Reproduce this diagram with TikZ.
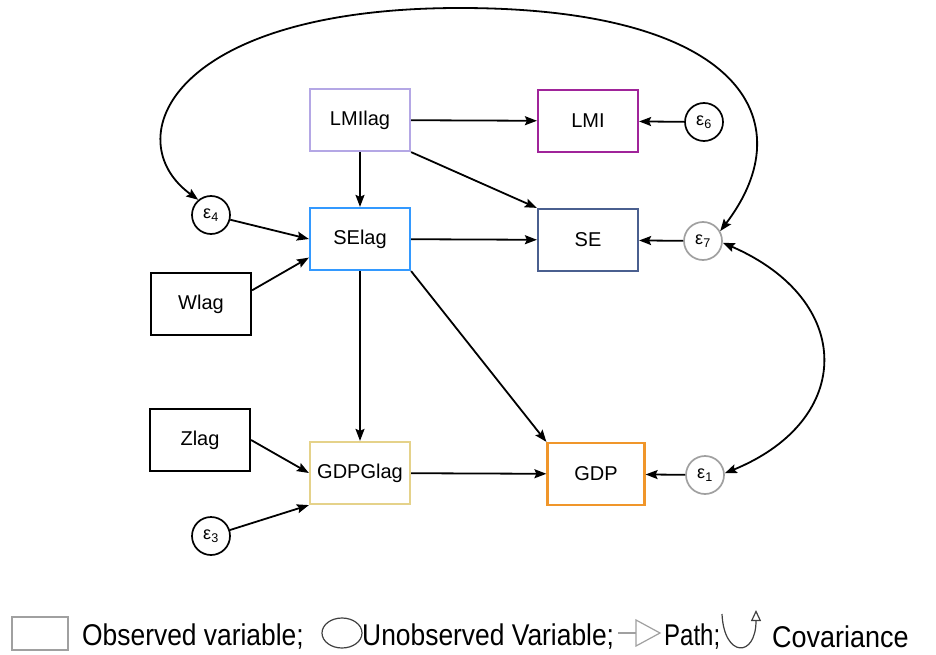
\documentclass[tikz,border=0pt]{standalone}
\usepackage{fontspec}
\setmainfont{Liberation Sans}
\usepackage{graphicx}
\usetikzlibrary{arrows.meta}

\definecolor{lmilagcol}{RGB}{180,167,229}
\definecolor{lmicol}{RGB}{160,36,154}
\definecolor{selagcol}{RGB}{51,153,255}
\definecolor{secol}{RGB}{74,95,143}
\definecolor{gdpglagcol}{RGB}{229,210,138}
\definecolor{gdpcol}{RGB}{240,150,42}
\definecolor{errgray}{RGB}{160,160,160}

\tikzset{
  obs/.style={draw, line width=2.2pt, minimum width=100pt, minimum height=62pt, inner sep=0pt, font=\fontsize{20}{24}\selectfont},
  err/.style={draw, circle, line width=1.7pt, minimum size=38pt, inner sep=0pt, font=\fontsize{18}{20}\selectfont},
  pth/.style={line width=1.8pt, -{Stealth[length=12pt,width=9pt,inset=2pt]}},
  cov/.style={line width=1.8pt, {Stealth[length=12pt,width=9pt,inset=2pt]}-{Stealth[length=12pt,width=9pt,inset=2pt]}},
  legtext/.style={anchor=west, inner sep=0pt, font=\fontsize{30}{34}\selectfont}
}

\begin{document}
\begin{tikzpicture}[x=1pt,y=-1pt]
	\useasboundingbox (0,0) rectangle (936,655);
	
	% Text Node
	\node [obs, draw=lmilagcol] (lmilag) at (360,120) {LMIlag};
	% Text Node
	\node [obs, draw=lmicol] (lmi) at (588,121) {LMI};
	% Text Node
	\node [obs, draw=selagcol] (selag) at (360,239) {SElag};
	% Text Node
	\node [obs, draw=secol] (se) at (588,240) {SE};
	% Text Node
	\node [obs] (wlag) at (201,304) {Wlag};
	% Text Node
	\node [obs] (zlag) at (200,440) {Zlag};
	% Text Node
	\node [obs, draw=gdpglagcol] (gdpglag) at (360,473) {GDPGlag};
	% Text Node
	\node [obs, draw=gdpcol, minimum width=97pt] (gdp) at (596,474) {GDP};
	
	%Shape: Circle
	\node [err] (e4) at (211,215) {ε\textsubscript{4}};
	\node [err] (e6) at (704,122) {ε\textsubscript{6}};
	\node [err, draw=errgray] (e7) at (703,241) {ε\textsubscript{7}};
	\node [err, draw=errgray] (e1) at (705,475) {ε\textsubscript{1}};
	\node [err] (e3) at (211,536) {ε\textsubscript{3}};
	
	%Straight Lines
	\draw [pth] (lmilag) -- (lmi);
	\draw [pth] (lmilag) -- (selag);
	\draw [pth] (lmilag.south east) -- (se.north west);
	\draw [pth] (e6) -- (lmi);
	\draw [pth] (e4) -- (selag.west);
	\draw [pth] (wlag.15) -- (selag.200);
	\draw [pth] (selag) -- (se);
	\draw [pth] (e7) -- (se);
	\draw [pth] (selag) -- (gdpglag);
	\draw [pth] (selag.south east) -- (gdp.north west);
	\draw [pth] (zlag.east) -- (gdpglag.west);
	\draw [pth] (e3) -- (gdpglag.south west);
	\draw [pth] (gdpglag) -- (gdp);
	\draw [pth] (e1) -- (gdp);
	
	%Curve Lines
	\draw [cov] (e4.130) .. controls (116,140) and (170,8) .. (460,8) .. controls (740,8) and (805,120) .. (e7.30);
	\draw [cov] (e7.-5) .. controls (855,300) and (855,420) .. (e1.5);
	
	% Legend
	\draw [errgray, line width=1.5pt] (12,617) rectangle (68,650);
	\node [legtext] (legobs) at (82,637) {\scalebox{0.88}[1]{Observed variable;}};
	\draw [darkgray, line width=1.2pt] (342,633) ellipse [x radius=20, y radius=15];
	\node [legtext] (legunobs) at (362,637) {\scalebox{0.88}[1]{Unobserved Variable;}};
	\draw [errgray, line width=1.2pt] (618,633) -- (636,633);
	\draw [errgray, line width=1.2pt] (636,620) -- (660,633) -- (636,646) -- cycle;
	\node [legtext] (legpath) at (664,637) {\scalebox{0.8}[1]{Path;}};
	\draw [darkgray, line width=1.2pt, -{Triangle[open,length=11pt,width=10pt]}] (722,614) .. controls (724,658) and (756,658) .. (756,610);
	\node [legtext] (legcov) at (772,637) {\scalebox{0.9}[1]{Covariance}};
	
\end{tikzpicture}
\end{document}
